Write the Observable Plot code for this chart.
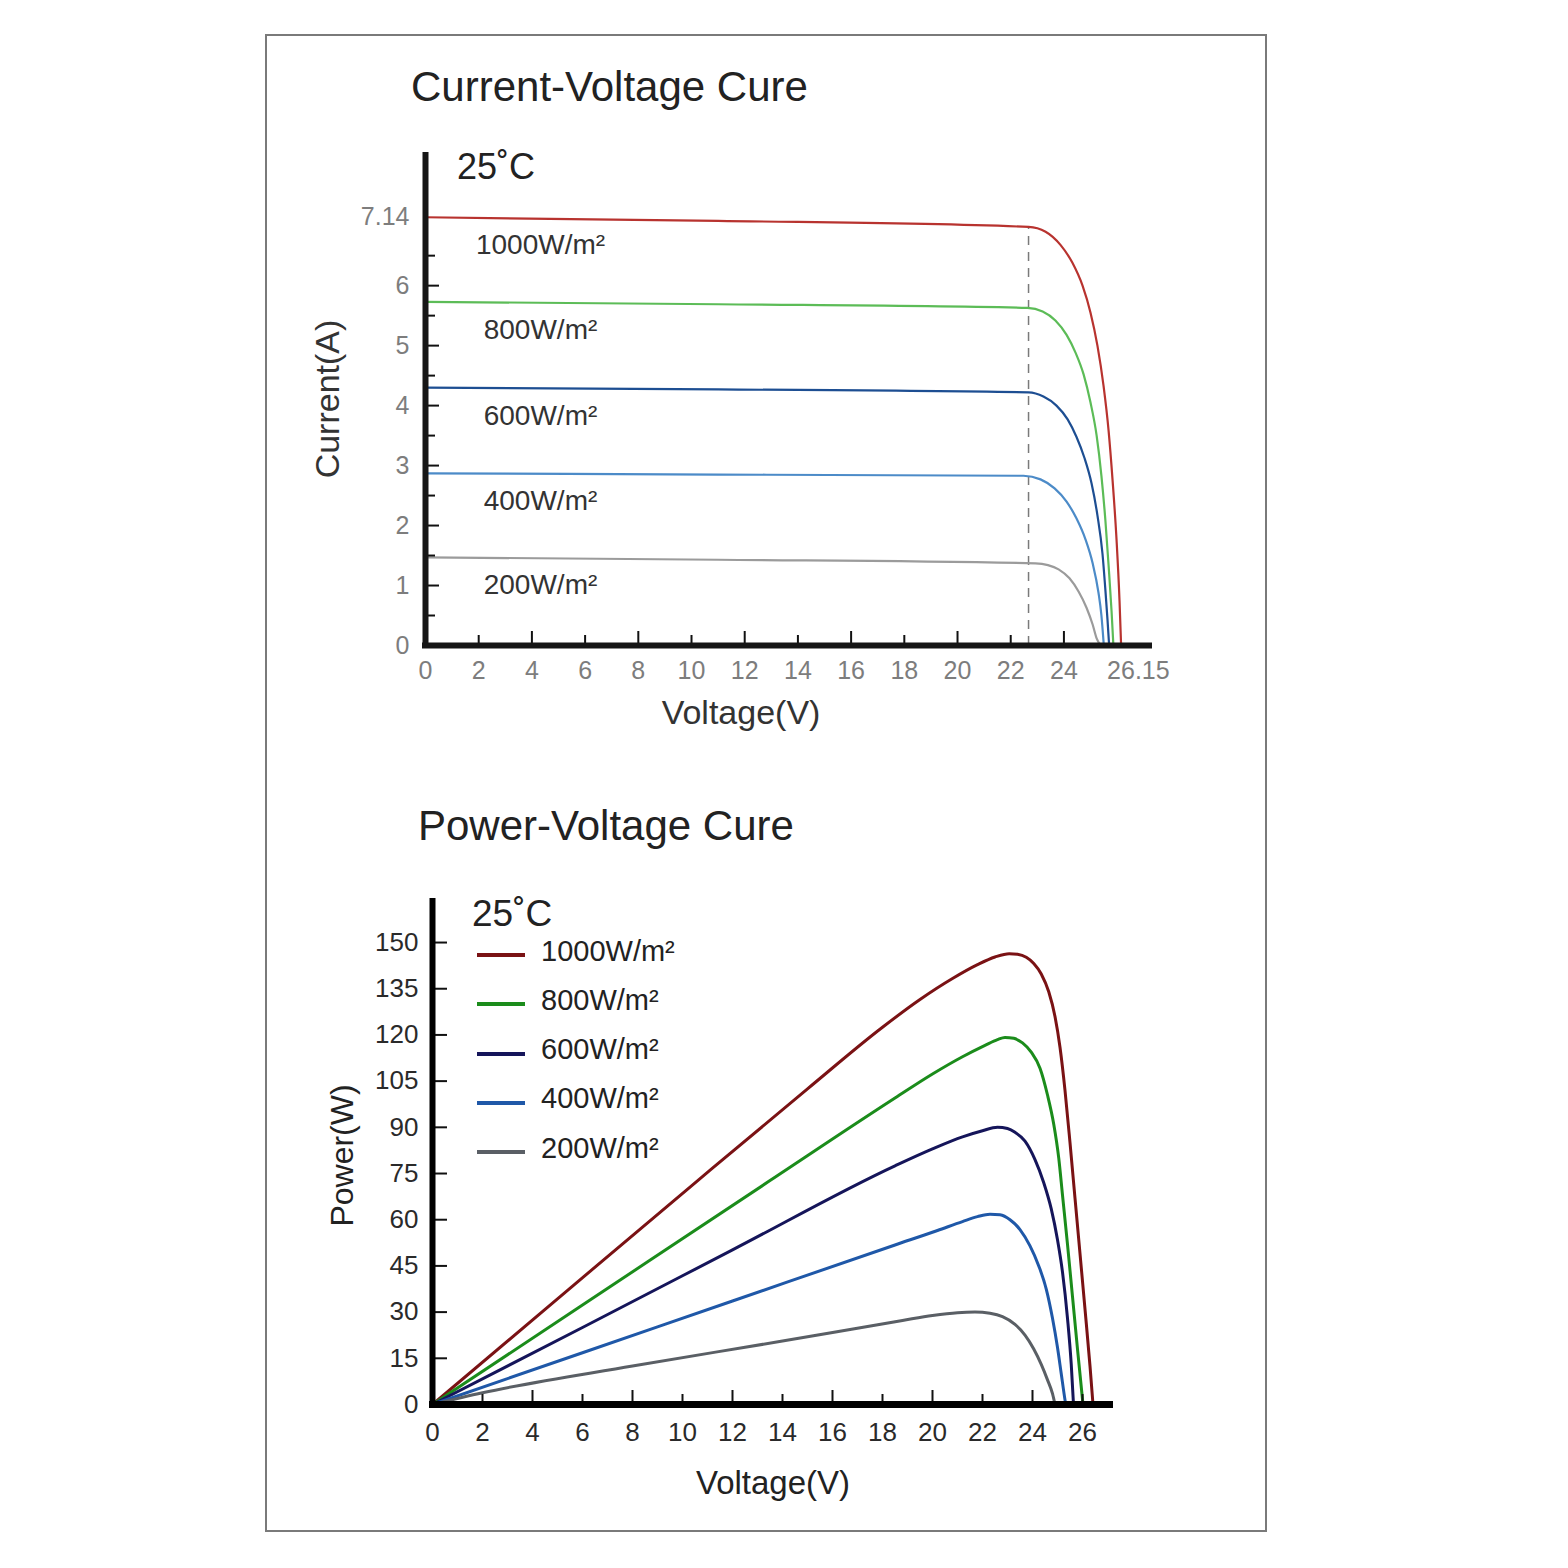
<!DOCTYPE html>
<html>
<head>
<meta charset="utf-8">
<script src="https://cdn.jsdelivr.net/npm/d3@7"></script>
<script src="https://cdn.jsdelivr.net/npm/@observablehq/plot@0.6"></script>
<style>
  body { margin: 0; background: #fff; font-family: "Liberation Sans", Arial, sans-serif; }
  #page { position: relative; width: 1568px; height: 1568px; overflow: hidden; background: #fff; }
  .frame { position: absolute; left: 265px; top: 34px; width: 998px; height: 1494px; border: 2px solid #7a7a7a; }
  .title { position: absolute; font-size: 42px; line-height: 42px; color: #222; white-space: nowrap; }
  .temp { position: absolute; line-height: 1; color: #222; white-space: nowrap; }
  .chart { position: absolute; left: 266px; }
  .legend-row { position: absolute; left: 477px; height: 40px; display: flex; align-items: center; }
  .legend-row .swatch { width: 48px; height: 4px; margin-right: 16px; }
  .legend-row .name { font-size: 29px; color: #222; line-height: 1; margin-top: -8px; }
</style>
</head>
<body>
<div id="page">
  <div class="frame"></div>
  <div class="title" style="left:411px; top:66px;">Current-Voltage Cure</div>
  <div class="temp" style="left:457px; top:149px; font-size:36px;">25˚C</div>
  <div class="chart" id="iv" style="top:130px;"></div>
  <div class="title" style="left:418px; top:805px;">Power-Voltage Cure</div>
  <div class="chart" id="pv" style="top:880px;"></div>
  <div class="temp" style="left:472px; top:895px; font-size:37px;">25˚C</div>
  <div id="legend"></div>
</div>
<script>
// Irradiance levels, from brightest to dimmest
const irradiance = ["1000W/m²", "800W/m²", "600W/m²", "400W/m²", "200W/m²"];

// Current-voltage curves, [voltage V, current A]
const iv1000 = [[0, 7.14], [11, 7.08], [22.67, 6.98], [23.31, 6.9], [23.87, 6.68], [24.32, 6.38], [24.7, 6.0], [25.0, 5.55], [25.26, 5.0], [25.49, 4.33], [25.68, 3.58], [25.83, 2.75], [25.98, 1.75], [26.09, 0.75], [26.15, 0]];
const iv800 = [[0, 5.73], [11, 5.69], [22.63, 5.63], [23.2, 5.57], [23.68, 5.42], [24.1, 5.18], [24.44, 4.88], [24.74, 4.52], [25.0, 4.05], [25.23, 3.5], [25.41, 2.83], [25.56, 2.08], [25.68, 1.33], [25.79, 0.58], [25.86, 0]];
const iv600 = [[0, 4.30], [11, 4.27], [22.67, 4.22], [23.23, 4.15], [23.72, 4.0], [24.14, 3.77], [24.47, 3.48], [24.77, 3.13], [25.04, 2.7], [25.26, 2.17], [25.45, 1.53], [25.56, 0.92], [25.64, 0.42], [25.7, 0]];
const iv400 = [[0, 2.87], [11, 2.85], [22.48, 2.83], [23.12, 2.77], [23.65, 2.62], [24.1, 2.4], [24.47, 2.12], [24.81, 1.77], [25.08, 1.37], [25.3, 0.88], [25.41, 0.5], [25.5, 0]];
const iv200 = [[0, 1.47], [11, 1.43], [22.93, 1.37], [23.4, 1.34], [23.8, 1.27], [24.21, 1.12], [24.55, 0.9], [24.85, 0.63], [25.08, 0.35], [25.23, 0.12], [25.38, 0]];

// Maximum power point of the 1000 W/m² curve (dashed marker)
const maxPowerVoltage = 22.67;
const maxPowerCurrent = 6.98;

// Power-voltage curves, [voltage V, power W]
const pv1000 = [[0, 0], [5, 34.3], [10.55, 72.3], [15, 102.5], [18, 122.5], [19.5, 131.5], [20.8, 138.3], [21.8, 142.8], [22.5, 145.3], [23.07, 146.4], [23.4, 146.2], [23.75, 145.2], [24.05, 143.2], [24.35, 139.8], [24.65, 134], [24.9, 126], [25.1, 116], [25.3, 102], [25.5, 85], [25.7, 67], [25.9, 49], [26.1, 31], [26.3, 12.5], [26.42, 0]];
const pv800 = [[0, 0], [6, 32.3], [13.5, 72.7], [18.5, 99.5], [20, 107.3], [21.2, 112.9], [22.1, 116.6], [22.6, 118.5], [22.9, 119.2], [23.25, 118.9], [23.6, 117.4], [23.95, 114.4], [24.3, 109.2], [24.6, 100.5], [24.85, 91], [25.05, 80], [25.2, 68], [25.4, 52], [25.6, 35], [25.8, 18], [26.02, 0]];
const pv600 = [[0, 0], [6, 25], [12, 50.2], [18.5, 77.5], [20, 83], [21.2, 86.9], [22, 88.9], [22.6, 90], [23.0, 89.6], [23.3, 88.4], [23.7, 85.5], [24.1, 79.5], [24.45, 72], [24.75, 63.5], [25.0, 53.5], [25.2, 43], [25.4, 28], [25.55, 13], [25.64, 0]];
const pv400 = [[0, 0], [6, 16.8], [12, 33.6], [18.5, 51.8], [20.2, 56.5], [21.2, 59.4], [21.8, 61], [22.3, 61.8], [22.7, 61.6], [23.1, 60], [23.5, 56.8], [23.9, 51.5], [24.25, 45], [24.55, 37.5], [24.8, 28], [25.0, 18.5], [25.15, 10], [25.3, 1.5], [25.33, 0]];
const pv200 = [[0, 0], [2, 3.8], [8, 12.5], [14, 20.6], [18.8, 27.3], [20, 28.9], [21, 29.8], [21.7, 30], [22.3, 29.6], [22.8, 28.5], [23.3, 26], [23.7, 22.5], [24.05, 18], [24.35, 13], [24.6, 8], [24.8, 3.5], [24.9, 0]];

// Tick values
const currentTicks = [0, 1, 2, 3, 4, 5, 6, 7.14];
const currentMinorTicks = [0.5, 1.5, 2.5, 3.5, 4.5, 5.5, 6.5];
const ivVoltageTicks = [0, 2, 4, 6, 8, 10, 12, 14, 16, 18, 20, 22, 24];
const openCircuitVoltage = 26.15;
const powerTicks = [0, 15, 30, 45, 60, 75, 90, 105, 120, 135, 150];
const pvVoltageTicks = [0, 2, 4, 6, 8, 10, 12, 14, 16, 18, 20, 22, 24, 26];

// Styles
const ivColors = ["#b8332f", "#5cbc57", "#1d4e92", "#4c8bc8", "#9b9b9b"];
const pvColors = ["#7a1214", "#1b8c1b", "#15155a", "#1f58a8", "#5a5f65"];
const font = "'Liberation Sans', Arial, sans-serif";

const ivCurves = [iv1000, iv800, iv600, iv400, iv200];
const pvCurves = [pv1000, pv800, pv600, pv400, pv200];

const ivRows = irradiance.flatMap((s, i) => ivCurves[i].map(([v, a]) => ({series: s, voltage: v, current: a})));
const pvRows = irradiance.flatMap((s, i) => pvCurves[i].map(([v, w]) => ({series: s, voltage: v, power: w})));
const ivStart = irradiance.map((s, i) => ({series: s, current: ivCurves[i][0][1]}));

// ---------- Current-voltage chart ----------
{
  const width = 1000, height = 640;
  const margin = {top: 22, right: 114, bottom: 125, left: 159};
  const plotW = width - margin.left - margin.right;
  const plotH = height - margin.top - margin.bottom;
  const xTicks = ivVoltageTicks.filter(d => d > 0);

  const chart = Plot.plot({
    width, height,
    marginTop: margin.top, marginRight: margin.right, marginBottom: margin.bottom, marginLeft: margin.left,
    style: {fontFamily: font, background: "transparent", overflow: "visible"},
    x: {domain: [0, 27.33], axis: null},
    y: {domain: [0, 8.22], axis: null},
    color: {domain: irradiance, range: ivColors},
    marks: [
      Plot.ruleX([maxPowerVoltage], {y1: 0, y2: maxPowerCurrent, stroke: "#7a7a7a", strokeWidth: 1.5, strokeDasharray: "9,7"}),
      Plot.line(ivRows, {x: "voltage", y: "current", z: "series", stroke: "series", strokeWidth: 2.2, curve: "monotone-x"}),
      Plot.text(ivStart, {frameAnchor: "left", y: "current", text: "series", dx: 115, dy: 28, fontSize: 28, fill: "#333", textAnchor: "middle"}),
      // inward tick marks
      Plot.tickY(currentTicks.filter(d => d > 0 && d < 7), {y: d => d, insetRight: plotW - 14, stroke: "#111", strokeWidth: 2}),
      Plot.tickY(currentMinorTicks, {y: d => d, insetRight: plotW - 10, stroke: "#111", strokeWidth: 2}),
      Plot.tickX(xTicks.filter(d => d % 4 === 0), {x: d => d, insetTop: plotH - 14, stroke: "#111", strokeWidth: 2}),
      Plot.tickX(xTicks.filter(d => d % 4 !== 0), {x: d => d, insetTop: plotH - 10, stroke: "#111", strokeWidth: 2}),
      // axis lines
      Plot.ruleX([0], {stroke: "#161616", strokeWidth: 6}),
      Plot.ruleY([0], {stroke: "#161616", strokeWidth: 6, insetLeft: -3}),
      // tick labels
      Plot.axisY({ticks: currentTicks, tickFormat: d => String(d), tickSize: 0, tickPadding: 16, fontSize: 25, color: "#7d7d7d", label: null}),
      Plot.axisX({ticks: ivVoltageTicks, tickFormat: d => String(d), tickSize: 0, tickPadding: 16, fontSize: 25, color: "#7d7d7d", label: null}),
      Plot.text([openCircuitVoltage], {x: d => d, frameAnchor: "bottom", text: d => String(d), textAnchor: "start", lineAnchor: "top", dx: -14, dy: 16, fontSize: 25, fill: "#7d7d7d"}),
      // axis titles
      Plot.text(["Current(A)"], {frameAnchor: "left", text: d => d, rotate: -90, textAnchor: "middle", lineAnchor: "middle", dx: -97, fontSize: 34, fill: "#333"}),
      Plot.text(["Voltage(V)"], {frameAnchor: "bottom", text: d => d, textAnchor: "middle", lineAnchor: "middle", dx: -48, dy: 68, fontSize: 34, fill: "#333"})
    ]
  });
  document.getElementById("iv").appendChild(chart);
}

// ---------- Power-voltage chart ----------
{
  const width = 1000, height = 640;
  const margin = {top: 18, right: 153, bottom: 116, left: 166};
  const plotW = width - margin.left - margin.right;
  const plotH = height - margin.top - margin.bottom;
  const xTicks = pvVoltageTicks.filter(d => d > 0);

  const chart = Plot.plot({
    width, height,
    marginTop: margin.top, marginRight: margin.right, marginBottom: margin.bottom, marginLeft: margin.left,
    style: {fontFamily: font, background: "transparent", overflow: "visible"},
    x: {domain: [0, 27.24], axis: null},
    y: {domain: [0, 164.3], axis: null},
    color: {domain: irradiance, range: pvColors},
    marks: [
      Plot.line(pvRows, {x: "voltage", y: "power", z: "series", stroke: "series", strokeWidth: 3, curve: "monotone-x"}),
      Plot.tickY(powerTicks.filter(d => d > 0), {y: d => d, insetRight: plotW - 15, stroke: "#111", strokeWidth: 2}),
      Plot.tickX(xTicks.filter(d => d % 4 === 0), {x: d => d, insetTop: plotH - 14, stroke: "#111", strokeWidth: 2}),
      Plot.tickX(xTicks.filter(d => d % 4 !== 0), {x: d => d, insetTop: plotH - 10, stroke: "#111", strokeWidth: 2}),
      Plot.ruleX([0], {stroke: "#000", strokeWidth: 6}),
      Plot.ruleY([0], {stroke: "#000", strokeWidth: 7, insetLeft: -3}),
      Plot.axisY({ticks: powerTicks, tickFormat: d => String(d), tickSize: 0, tickPadding: 14, fontSize: 26, color: "#2a2a2a", label: null}),
      Plot.axisX({ticks: pvVoltageTicks, tickFormat: d => String(d), tickSize: 0, tickPadding: 18, fontSize: 26, color: "#2a2a2a", label: null}),
      Plot.text(["Power(W)"], {frameAnchor: "left", text: d => d, rotate: -90, textAnchor: "middle", lineAnchor: "middle", dx: -90, dy: 4, fontSize: 32, fill: "#222"}),
      Plot.text(["Voltage(V)"], {frameAnchor: "bottom", text: d => d, textAnchor: "middle", lineAnchor: "middle", dy: 79, fontSize: 33, fill: "#222"})
    ]
  });
  document.getElementById("pv").appendChild(chart);
}

// ---------- Legend for the power chart ----------
{
  const legend = document.getElementById("legend");
  irradiance.forEach((s, i) => {
    const row = document.createElement("div");
    row.className = "legend-row";
    row.style.top = (935 + i * 49.3) + "px";
    const sw = document.createElement("div");
    sw.className = "swatch";
    sw.style.background = pvColors[i];
    const name = document.createElement("span");
    name.className = "name";
    name.textContent = s;
    row.appendChild(sw);
    row.appendChild(name);
    legend.appendChild(row);
  });
}
</script>
</body>
</html>
